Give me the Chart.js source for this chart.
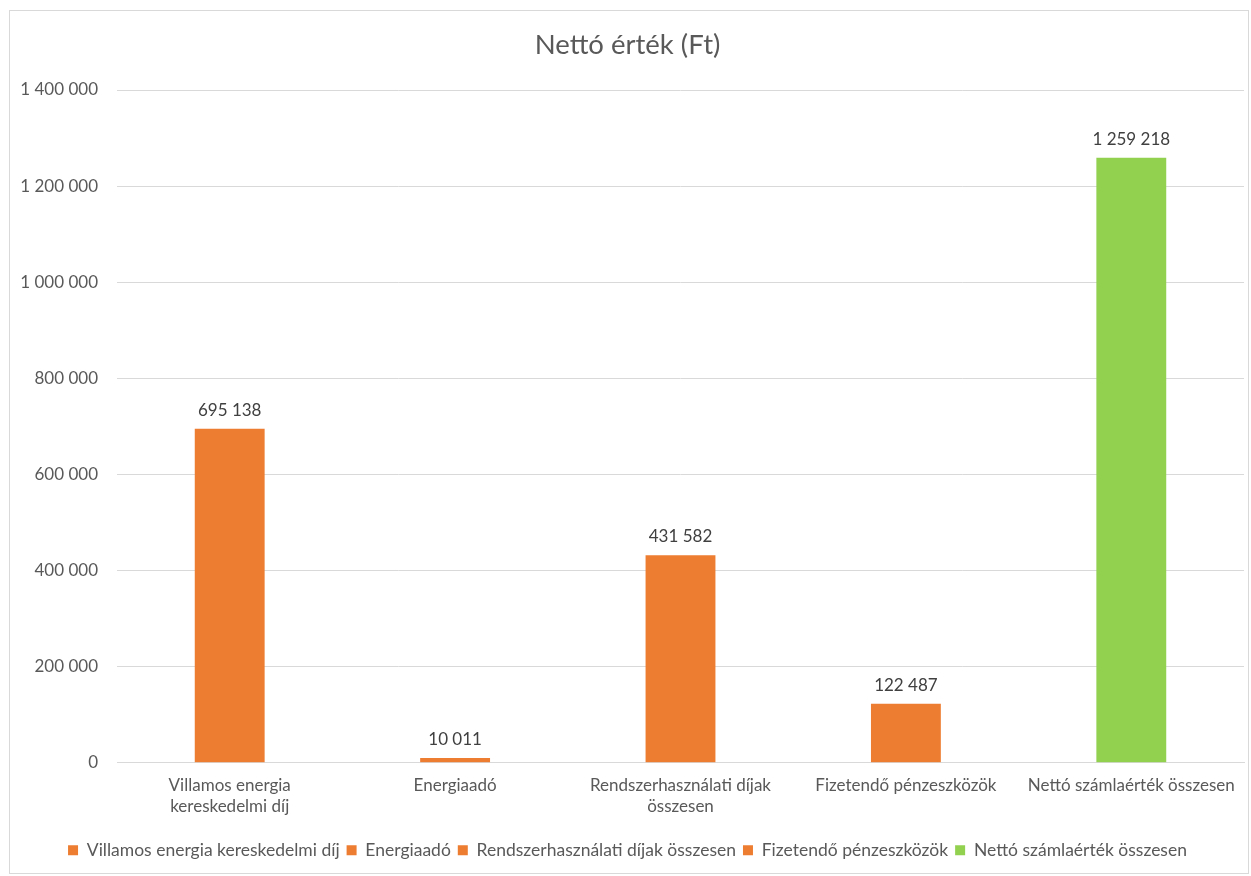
<!DOCTYPE html>
<html><head><meta charset="utf-8">
<script src="https://cdn.jsdelivr.net/npm/chart.js@4/dist/chart.umd.min.js"></script>
<style>
html,body{margin:0;padding:0;background:#fff;}
#wrap{position:absolute;left:9px;top:10px;width:1240px;height:864px;border:1px solid #d9d9d9;box-sizing:border-box;}
canvas{display:block;}
</style></head><body>
<div id="wrap"><canvas id="c"></canvas></div>
<script>
const categories = [["Villamos energia","kereskedelmi díj"],"Energiaadó",["Rendszerhasználati díjak","összesen"],"Fizetendő pénzeszközök","Nettó számlaérték összesen"];
const legendLabels = ["Villamos energia kereskedelmi díj","Energiaadó","Rendszerhasználati díjak összesen","Fizetendő pénzeszközök","Nettó számlaérték összesen"];
const values = [695138, 10011, 431582, 122487, 1259218];
const colors = ["#ED7D31","#ED7D31","#ED7D31","#ED7D31","#92D050"];
const chartTitle = "Nettó érték (Ft)";
const FONT = "Lato, 'Open Sans', sans-serif";
const fmt = v => String(v).replace(/\B(?=(\d{3})+(?!\d))/g, " ");

const dataLabels = {
  id:'dataLabels',
  afterDatasetsDraw(chart){
    const ctx = chart.ctx;
    const meta = chart.getDatasetMeta(0);
    ctx.save();
    ctx.font = "17px " + FONT;
    ctx.fillStyle = "#404040";
    ctx.textAlign = "center";
    ctx.textBaseline = "bottom";
    meta.data.forEach((bar,i)=>{
      ctx.fillText(fmt(values[i]), bar.x, bar.y - 10);
    });
    ctx.restore();
  }
};

new Chart(document.getElementById('c'), {
  type:'bar',
  data:{labels:categories, datasets:[{label:chartTitle, data:values, backgroundColor:colors, barPercentage:0.62, categoryPercentage:0.5}]},
  options:{
    responsive:true, maintainAspectRatio:false, animation:false,
    layout:{padding:{left:1,right:4,top:6,bottom:4}},
    plugins:{
      title:{display:true,text:chartTitle,color:"#595959",font:{family:FONT,size:27.5,weight:'normal'},padding:{top:12,bottom:28}},
      legend:{position:'bottom',labels:{
        color:"#595959",font:{family:FONT,size:17.5},boxWidth:10,boxHeight:10,padding:7,
        generateLabels:()=>legendLabels.map((t,i)=>({text:t,fillStyle:colors[i],strokeStyle:colors[i],lineWidth:0,hidden:false,index:i,fontColor:"#595959"}))
      }, onClick:null},
      tooltip:{enabled:false}
    },
    scales:{
      x:{grid:{display:false},border:{color:"#d9d9d9",width:1},ticks:{color:"#595959",font:{family:FONT,size:17},maxRotation:0,padding:5},
         afterFit:s=>{s.height += 13;}},
      y:{min:0,max:1400000,ticks:{stepSize:200000,color:"#595959",font:{family:FONT,size:17},padding:19,callback:v=>fmt(v)},
         grid:{color:"#d9d9d9",drawTicks:false},border:{display:false},
         afterFit:s=>{s.width = 106;}}
    }
  },
  plugins:[dataLabels]
});
</script></body></html>
